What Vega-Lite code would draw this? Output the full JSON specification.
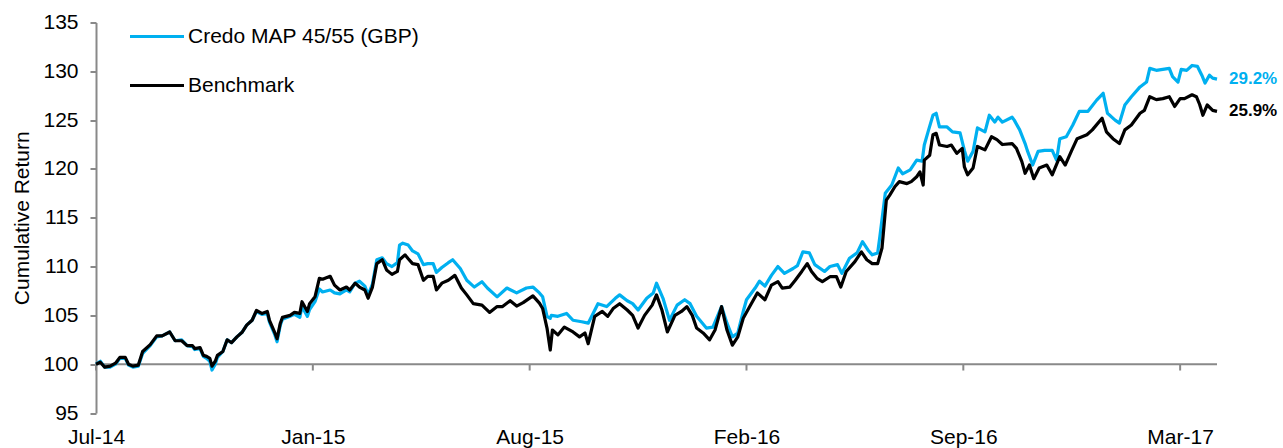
{
  "$schema": "https://vega.github.io/schema/vega-lite/v6.json",
  "width": 1121,
  "height": 390.5,
  "autosize": {"type": "none"},
  "padding": {"left": 96, "top": 22.5, "right": 66, "bottom": 35},
  "background": "white",
  "config": {"view": {"stroke": null}, "font": "Liberation Sans"},
  "datasets": {
    "fund": [
      {"d":"2014-07-01","v":100.0},{"d":"2014-07-05","v":100.3},{"d":"2014-07-09","v":99.7},{"d":"2014-07-14","v":99.7},{"d":"2014-07-19","v":100.0},{"d":"2014-07-23","v":100.6},{"d":"2014-07-28","v":100.6},{"d":"2014-07-31","v":99.9},{"d":"2014-08-04","v":99.7},{"d":"2014-08-09","v":99.8},{"d":"2014-08-13","v":101.1},{"d":"2014-08-20","v":101.9},{"d":"2014-08-26","v":102.8},{"d":"2014-08-31","v":102.9},{"d":"2014-09-07","v":103.3},{"d":"2014-09-12","v":102.4},{"d":"2014-09-18","v":102.5},{"d":"2014-09-23","v":101.9},{"d":"2014-09-28","v":101.8},{"d":"2014-09-30","v":101.5},{"d":"2014-10-05","v":101.6},{"d":"2014-10-08","v":100.8},{"d":"2014-10-11","v":100.6},{"d":"2014-10-14","v":100.3},{"d":"2014-10-16","v":99.4},{"d":"2014-10-19","v":100.0},{"d":"2014-10-21","v":100.7},{"d":"2014-10-26","v":101.3},{"d":"2014-10-30","v":102.5},{"d":"2014-11-03","v":102.2},{"d":"2014-11-08","v":102.8},{"d":"2014-11-13","v":103.3},{"d":"2014-11-17","v":104.0},{"d":"2014-11-22","v":104.5},{"d":"2014-11-26","v":105.4},{"d":"2014-12-01","v":105.1},{"d":"2014-12-06","v":105.2},{"d":"2014-12-08","v":104.3},{"d":"2014-12-13","v":103.0},{"d":"2014-12-15","v":102.3},{"d":"2014-12-18","v":104.0},{"d":"2014-12-20","v":104.6},{"d":"2014-12-27","v":104.9},{"d":"2014-12-31","v":105.1},
      {"d":"2015-01-05","v":104.8},{"d":"2015-01-07","v":105.9},{"d":"2015-01-12","v":104.9},{"d":"2015-01-14","v":105.6},{"d":"2015-01-19","v":106.4},{"d":"2015-01-23","v":107.7},{"d":"2015-01-26","v":107.4},{"d":"2015-02-02","v":107.6},{"d":"2015-02-06","v":107.3},{"d":"2015-02-11","v":107.2},{"d":"2015-02-17","v":107.6},{"d":"2015-02-20","v":107.4},{"d":"2015-02-25","v":108.3},{"d":"2015-03-01","v":108.5},{"d":"2015-03-06","v":108.0},{"d":"2015-03-09","v":107.1},{"d":"2015-03-13","v":108.2},{"d":"2015-03-17","v":110.7},{"d":"2015-03-22","v":110.9},{"d":"2015-03-26","v":110.3},{"d":"2015-03-31","v":110.0},{"d":"2015-04-05","v":110.4},{"d":"2015-04-07","v":112.2},{"d":"2015-04-10","v":112.4},{"d":"2015-04-15","v":112.2},{"d":"2015-04-19","v":111.6},{"d":"2015-04-24","v":111.3},{"d":"2015-04-29","v":110.2},{"d":"2015-05-03","v":110.3},{"d":"2015-05-08","v":110.3},{"d":"2015-05-11","v":109.4},{"d":"2015-05-16","v":109.9},{"d":"2015-05-22","v":110.4},{"d":"2015-05-26","v":110.7},{"d":"2015-06-02","v":109.8},{"d":"2015-06-08","v":108.6},{"d":"2015-06-15","v":107.9},{"d":"2015-06-22","v":108.45},{"d":"2015-06-27","v":107.8},{"d":"2015-07-06","v":106.9},{"d":"2015-07-15","v":107.8},{"d":"2015-07-24","v":107.3},{"d":"2015-08-02","v":107.8},{"d":"2015-08-08","v":107.9},{"d":"2015-08-14","v":107.3},{"d":"2015-08-17","v":106.9},{"d":"2015-08-21","v":104.9},{"d":"2015-08-24","v":104.7},{"d":"2015-08-25","v":105.0},{"d":"2015-08-31","v":104.9},{"d":"2015-09-08","v":105.2},{"d":"2015-09-14","v":104.5},{"d":"2015-09-22","v":104.35},{"d":"2015-09-28","v":104.2},{"d":"2015-10-07","v":106.2},{"d":"2015-10-15","v":105.9},{"d":"2015-10-23","v":106.75},{"d":"2015-10-27","v":107.1},{"d":"2015-11-03","v":106.5},{"d":"2015-11-08","v":106.2},{"d":"2015-11-13","v":105.55},{"d":"2015-11-21","v":106.75},{"d":"2015-11-27","v":107.3},{"d":"2015-11-30","v":108.3},{"d":"2015-12-06","v":106.75},{"d":"2015-12-12","v":104.5},{"d":"2015-12-19","v":106.05},{"d":"2015-12-26","v":106.6},{"d":"2015-12-31","v":106.2},
      {"d":"2016-01-06","v":104.9},{"d":"2016-01-15","v":103.7},{"d":"2016-01-21","v":103.8},{"d":"2016-01-29","v":105.9},{"d":"2016-02-03","v":104.2},{"d":"2016-02-08","v":102.8},{"d":"2016-02-13","v":103.2},{"d":"2016-02-18","v":105.4},{"d":"2016-02-21","v":106.6},{"d":"2016-02-29","v":107.8},{"d":"2016-03-04","v":108.5},{"d":"2016-03-09","v":108.0},{"d":"2016-03-15","v":109.1},{"d":"2016-03-21","v":110.0},{"d":"2016-03-27","v":109.3},{"d":"2016-04-04","v":109.8},{"d":"2016-04-08","v":110.1},{"d":"2016-04-13","v":111.5},{"d":"2016-04-19","v":111.4},{"d":"2016-04-24","v":110.2},{"d":"2016-05-03","v":109.5},{"d":"2016-05-08","v":110.0},{"d":"2016-05-15","v":110.2},{"d":"2016-05-19","v":109.3},{"d":"2016-05-26","v":110.85},{"d":"2016-06-02","v":111.4},{"d":"2016-06-07","v":112.55},{"d":"2016-06-12","v":111.7},{"d":"2016-06-16","v":111.2},{"d":"2016-06-21","v":111.4},{"d":"2016-06-23","v":113.05},{"d":"2016-06-28","v":117.5},{"d":"2016-07-04","v":118.35},{"d":"2016-07-10","v":120.1},{"d":"2016-07-14","v":119.5},{"d":"2016-07-21","v":119.9},{"d":"2016-07-27","v":120.9},{"d":"2016-08-01","v":120.8},{"d":"2016-08-03","v":122.45},{"d":"2016-08-07","v":124.0},{"d":"2016-08-11","v":125.5},{"d":"2016-08-14","v":125.7},{"d":"2016-08-17","v":124.3},{"d":"2016-08-24","v":124.3},{"d":"2016-08-29","v":123.8},{"d":"2016-09-05","v":123.7},{"d":"2016-09-09","v":121.9},{"d":"2016-09-12","v":120.8},{"d":"2016-09-17","v":121.8},{"d":"2016-09-21","v":124.2},{"d":"2016-09-28","v":123.8},{"d":"2016-10-02","v":125.5},{"d":"2016-10-07","v":124.8},{"d":"2016-10-10","v":125.3},{"d":"2016-10-14","v":124.8},{"d":"2016-10-23","v":125.3},{"d":"2016-10-25","v":125.0},{"d":"2016-10-30","v":124.0},{"d":"2016-11-04","v":122.6},{"d":"2016-11-06","v":121.9},{"d":"2016-11-11","v":120.4},{"d":"2016-11-16","v":121.8},{"d":"2016-11-22","v":121.9},{"d":"2016-11-29","v":121.9},{"d":"2016-12-03","v":120.9},{"d":"2016-12-06","v":123.1},{"d":"2016-12-12","v":123.3},{"d":"2016-12-18","v":124.5},{"d":"2016-12-24","v":125.9},
      {"d":"2017-01-01","v":125.9},{"d":"2017-01-09","v":127.05},{"d":"2017-01-15","v":127.75},{"d":"2017-01-19","v":125.7},{"d":"2017-01-26","v":125.0},{"d":"2017-01-30","v":124.7},{"d":"2017-02-04","v":126.55},{"d":"2017-02-10","v":127.4},{"d":"2017-02-18","v":128.4},{"d":"2017-02-24","v":128.9},{"d":"2017-02-27","v":130.3},{"d":"2017-03-05","v":130.1},{"d":"2017-03-11","v":130.2},{"d":"2017-03-17","v":130.3},{"d":"2017-03-20","v":129.45},{"d":"2017-03-25","v":128.9},{"d":"2017-03-28","v":130.2},{"d":"2017-04-02","v":130.1},{"d":"2017-04-07","v":130.6},{"d":"2017-04-12","v":130.5},{"d":"2017-04-16","v":129.6},{"d":"2017-04-19","v":128.8},{"d":"2017-04-23","v":129.6},{"d":"2017-04-26","v":129.3},{"d":"2017-04-30","v":129.2}
    ],
    "bench": [
      {"d":"2014-07-01","v":100.0},{"d":"2014-07-05","v":100.2},{"d":"2014-07-09","v":99.7},{"d":"2014-07-14","v":99.8},{"d":"2014-07-19","v":100.1},{"d":"2014-07-23","v":100.7},{"d":"2014-07-28","v":100.7},{"d":"2014-07-31","v":100.0},{"d":"2014-08-04","v":99.8},{"d":"2014-08-09","v":99.9},{"d":"2014-08-13","v":101.3},{"d":"2014-08-20","v":102.0},{"d":"2014-08-26","v":102.9},{"d":"2014-08-31","v":102.9},{"d":"2014-09-07","v":103.3},{"d":"2014-09-12","v":102.4},{"d":"2014-09-18","v":102.4},{"d":"2014-09-23","v":101.9},{"d":"2014-09-28","v":101.9},{"d":"2014-09-30","v":101.6},{"d":"2014-10-05","v":101.7},{"d":"2014-10-08","v":100.9},{"d":"2014-10-11","v":100.8},{"d":"2014-10-14","v":100.6},{"d":"2014-10-16","v":99.8},{"d":"2014-10-19","v":100.3},{"d":"2014-10-21","v":100.9},{"d":"2014-10-26","v":101.3},{"d":"2014-10-30","v":102.5},{"d":"2014-11-03","v":102.2},{"d":"2014-11-08","v":102.8},{"d":"2014-11-13","v":103.3},{"d":"2014-11-17","v":104.0},{"d":"2014-11-22","v":104.5},{"d":"2014-11-26","v":105.5},{"d":"2014-12-01","v":105.2},{"d":"2014-12-06","v":105.4},{"d":"2014-12-08","v":104.5},{"d":"2014-12-13","v":103.2},{"d":"2014-12-15","v":102.6},{"d":"2014-12-18","v":104.2},{"d":"2014-12-20","v":104.8},{"d":"2014-12-27","v":105.0},{"d":"2014-12-31","v":105.3},
      {"d":"2015-01-05","v":105.2},{"d":"2015-01-07","v":106.4},{"d":"2015-01-12","v":105.4},{"d":"2015-01-14","v":106.2},{"d":"2015-01-19","v":106.9},{"d":"2015-01-23","v":108.8},{"d":"2015-01-26","v":108.7},{"d":"2015-02-02","v":109.0},{"d":"2015-02-06","v":108.1},{"d":"2015-02-11","v":107.6},{"d":"2015-02-17","v":107.9},{"d":"2015-02-20","v":107.6},{"d":"2015-02-25","v":108.3},{"d":"2015-03-01","v":107.9},{"d":"2015-03-06","v":107.6},{"d":"2015-03-09","v":106.75},{"d":"2015-03-13","v":107.9},{"d":"2015-03-17","v":110.3},{"d":"2015-03-22","v":110.7},{"d":"2015-03-26","v":109.65},{"d":"2015-03-31","v":109.2},{"d":"2015-04-05","v":109.5},{"d":"2015-04-07","v":110.7},{"d":"2015-04-12","v":111.2},{"d":"2015-04-15","v":110.8},{"d":"2015-04-19","v":110.3},{"d":"2015-04-24","v":110.2},{"d":"2015-04-29","v":108.6},{"d":"2015-05-03","v":109.0},{"d":"2015-05-08","v":109.0},{"d":"2015-05-11","v":107.6},{"d":"2015-05-16","v":108.3},{"d":"2015-05-22","v":108.6},{"d":"2015-05-28","v":109.1},{"d":"2015-06-03","v":107.8},{"d":"2015-06-08","v":107.1},{"d":"2015-06-14","v":106.2},{"d":"2015-06-22","v":106.05},{"d":"2015-06-29","v":105.3},{"d":"2015-07-06","v":105.9},{"d":"2015-07-11","v":105.9},{"d":"2015-07-18","v":106.5},{"d":"2015-07-24","v":105.95},{"d":"2015-07-30","v":106.3},{"d":"2015-08-08","v":107.0},{"d":"2015-08-14","v":106.25},{"d":"2015-08-17","v":105.7},{"d":"2015-08-21","v":103.7},{"d":"2015-08-24","v":101.45},{"d":"2015-08-26","v":103.5},{"d":"2015-08-31","v":103.0},{"d":"2015-09-06","v":103.8},{"d":"2015-09-14","v":103.3},{"d":"2015-09-20","v":102.8},{"d":"2015-09-25","v":103.2},{"d":"2015-09-28","v":102.1},{"d":"2015-10-04","v":104.9},{"d":"2015-10-11","v":105.4},{"d":"2015-10-16","v":104.9},{"d":"2015-10-21","v":105.7},{"d":"2015-10-27","v":106.2},{"d":"2015-11-03","v":105.55},{"d":"2015-11-08","v":105.0},{"d":"2015-11-13","v":103.7},{"d":"2015-11-19","v":105.0},{"d":"2015-11-26","v":106.05},{"d":"2015-11-30","v":107.1},{"d":"2015-12-05","v":105.55},{"d":"2015-12-10","v":103.3},{"d":"2015-12-17","v":105.0},{"d":"2015-12-23","v":105.4},{"d":"2015-12-28","v":105.9},
      {"d":"2016-01-02","v":105.0},{"d":"2016-01-06","v":103.7},{"d":"2016-01-12","v":103.2},{"d":"2016-01-18","v":102.5},{"d":"2016-01-23","v":103.5},{"d":"2016-01-29","v":105.9},{"d":"2016-02-03","v":103.5},{"d":"2016-02-08","v":101.95},{"d":"2016-02-13","v":102.8},{"d":"2016-02-18","v":104.7},{"d":"2016-02-24","v":105.9},{"d":"2016-03-02","v":107.3},{"d":"2016-03-09","v":106.6},{"d":"2016-03-15","v":108.1},{"d":"2016-03-21","v":108.45},{"d":"2016-03-25","v":107.8},{"d":"2016-04-01","v":107.9},{"d":"2016-04-06","v":108.6},{"d":"2016-04-12","v":109.5},{"d":"2016-04-17","v":110.3},{"d":"2016-04-21","v":109.5},{"d":"2016-04-26","v":108.8},{"d":"2016-05-01","v":108.45},{"d":"2016-05-08","v":108.96},{"d":"2016-05-14","v":108.96},{"d":"2016-05-18","v":107.9},{"d":"2016-05-23","v":109.5},{"d":"2016-05-31","v":110.5},{"d":"2016-06-06","v":111.5},{"d":"2016-06-11","v":110.7},{"d":"2016-06-16","v":110.3},{"d":"2016-06-21","v":110.3},{"d":"2016-06-25","v":111.9},{"d":"2016-06-29","v":116.8},{"d":"2016-07-02","v":117.3},{"d":"2016-07-07","v":118.2},{"d":"2016-07-11","v":118.7},{"d":"2016-07-18","v":118.5},{"d":"2016-07-22","v":118.7},{"d":"2016-07-27","v":119.2},{"d":"2016-07-30","v":119.7},{"d":"2016-08-02","v":118.35},{"d":"2016-08-03","v":120.9},{"d":"2016-08-08","v":121.4},{"d":"2016-08-11","v":123.5},{"d":"2016-08-14","v":123.65},{"d":"2016-08-17","v":122.45},{"d":"2016-08-24","v":122.3},{"d":"2016-08-28","v":122.45},{"d":"2016-09-02","v":121.6},{"d":"2016-09-07","v":122.1},{"d":"2016-09-09","v":120.2},{"d":"2016-09-12","v":119.4},{"d":"2016-09-17","v":120.1},{"d":"2016-09-21","v":122.3},{"d":"2016-09-28","v":121.95},{"d":"2016-10-04","v":123.3},{"d":"2016-10-09","v":123.0},{"d":"2016-10-14","v":122.5},{"d":"2016-10-23","v":122.6},{"d":"2016-10-27","v":122.1},{"d":"2016-11-01","v":120.75},{"d":"2016-11-04","v":119.55},{"d":"2016-11-08","v":120.4},{"d":"2016-11-12","v":119.0},{"d":"2016-11-17","v":120.1},{"d":"2016-11-24","v":120.4},{"d":"2016-11-29","v":119.4},{"d":"2016-12-06","v":121.25},{"d":"2016-12-11","v":120.4},{"d":"2016-12-17","v":121.9},{"d":"2016-12-22","v":123.1},{"d":"2016-12-31","v":123.5},
      {"d":"2017-01-05","v":124.0},{"d":"2017-01-14","v":125.2},{"d":"2017-01-18","v":123.8},{"d":"2017-01-24","v":123.1},{"d":"2017-01-30","v":122.6},{"d":"2017-02-04","v":124.0},{"d":"2017-02-10","v":124.5},{"d":"2017-02-18","v":125.7},{"d":"2017-02-22","v":126.0},{"d":"2017-02-27","v":127.4},{"d":"2017-03-05","v":127.1},{"d":"2017-03-11","v":127.2},{"d":"2017-03-17","v":127.4},{"d":"2017-03-22","v":126.4},{"d":"2017-03-27","v":127.2},{"d":"2017-03-31","v":127.2},{"d":"2017-04-07","v":127.6},{"d":"2017-04-11","v":127.4},{"d":"2017-04-14","v":126.6},{"d":"2017-04-17","v":125.5},{"d":"2017-04-21","v":126.55},{"d":"2017-04-26","v":126.0},{"d":"2017-04-30","v":125.9}
    ],
    "ticks": [{"d":"2014-07-01"},{"d":"2015-01-17"},{"d":"2015-08-05"},{"d":"2016-02-21"},{"d":"2016-09-08"},{"d":"2017-03-27"}]
  },
  "layer": [
    {
      "data": {"values": [{"y": 100}]},
      "mark": {"type": "rule", "color": "#898989", "strokeWidth": 2},
      "encoding": {
        "y": {
          "field": "y", "type": "quantitative",
          "scale": {"domain": [95, 135], "nice": false, "zero": false},
          "axis": {
            "values": [95, 100, 105, 110, 115, 120, 125, 130, 135],
            "grid": false, "domainColor": "#898989", "domainWidth": 2,
            "tickColor": "#898989", "tickWidth": 2, "tickSize": 6,
            "labelFont": "Liberation Sans", "labelFontSize": 21, "labelColor": "#000000", "labelPadding": 12,
            "title": "Cumulative Return", "titleFont": "Liberation Sans", "titleFontSize": 21,
            "titleFontWeight": "normal", "titleColor": "#000000", "titlePadding": 10
          }
        }
      }
    },
    {
      "data": {"name": "ticks"},
      "mark": {"type": "rule", "color": "#898989", "strokeWidth": 2},
      "encoding": {
        "x": {
          "field": "d", "type": "temporal",
          "scale": {"type": "utc", "domain": [{"year": 2014, "month": 7, "date": 1, "utc": true}, {"year": 2017, "month": 4, "date": 30, "utc": true}]},
          "axis": {
            "values": [
              {"year": 2014, "month": 7, "date": 1, "utc": true},
              {"year": 2015, "month": 1, "date": 17, "utc": true},
              {"year": 2015, "month": 8, "date": 5, "utc": true},
              {"year": 2016, "month": 2, "date": 21, "utc": true},
              {"year": 2016, "month": 9, "date": 8, "utc": true},
              {"year": 2017, "month": 3, "date": 27, "utc": true}
            ],
            "labelExpr": "utcFormat(datum.value, '%b-%y')",
            "domain": false, "ticks": false, "grid": false,
            "labelFont": "Liberation Sans", "labelFontSize": 21, "labelColor": "#000000",
            "labelPadding": 13, "labelFlush": false, "labelOverlap": false, "title": null
          }
        },
        "y": {"datum": 100, "type": "quantitative"},
        "y2": {"datum": 99.35}
      }
    },
    {
      "data": {"name": "fund"},
      "mark": {"type": "line", "strokeWidth": 3.2, "strokeJoin": "round"},
      "encoding": {
        "x": {"field": "d", "type": "temporal"},
        "y": {"field": "v", "type": "quantitative"},
        "color": {
          "datum": "Credo MAP 45/55 (GBP)",
          "scale": {"domain": ["Credo MAP 45/55 (GBP)", "Benchmark"], "range": ["#00B0F0", "#000000"]},
          "legend": {
            "orient": "none", "legendX": 32, "legendY": -15, "title": null,
            "symbolType": "stroke", "symbolSize": 2916, "symbolStrokeWidth": 3.2,
            "labelFont": "Liberation Sans", "labelFontSize": 21, "labelColor": "#000000",
            "labelOffset": 2, "rowPadding": 10, "labelLimit": 400
          }
        }
      }
    },
    {
      "data": {"name": "bench"},
      "mark": {"type": "line", "strokeWidth": 3.2, "strokeJoin": "round"},
      "encoding": {
        "x": {"field": "d", "type": "temporal"},
        "y": {"field": "v", "type": "quantitative"},
        "color": {"datum": "Benchmark"}
      }
    },
    {
      "data": {"values": [{"d": "2017-04-30", "v": 129.2, "t": "29.2%"}]},
      "mark": {"type": "text", "align": "left", "baseline": "middle", "dx": 12, "font": "Liberation Sans", "fontSize": 17, "fontWeight": "bold", "color": "#00B0F0"},
      "encoding": {
        "x": {"field": "d", "type": "temporal"},
        "y": {"field": "v", "type": "quantitative"},
        "text": {"field": "t"}
      }
    },
    {
      "data": {"values": [{"d": "2017-04-30", "v": 125.9, "t": "25.9%"}]},
      "mark": {"type": "text", "align": "left", "baseline": "middle", "dx": 12, "font": "Liberation Sans", "fontSize": 17, "fontWeight": "bold", "color": "#000000"},
      "encoding": {
        "x": {"field": "d", "type": "temporal"},
        "y": {"field": "v", "type": "quantitative"},
        "text": {"field": "t"}
      }
    }
  ]
}
